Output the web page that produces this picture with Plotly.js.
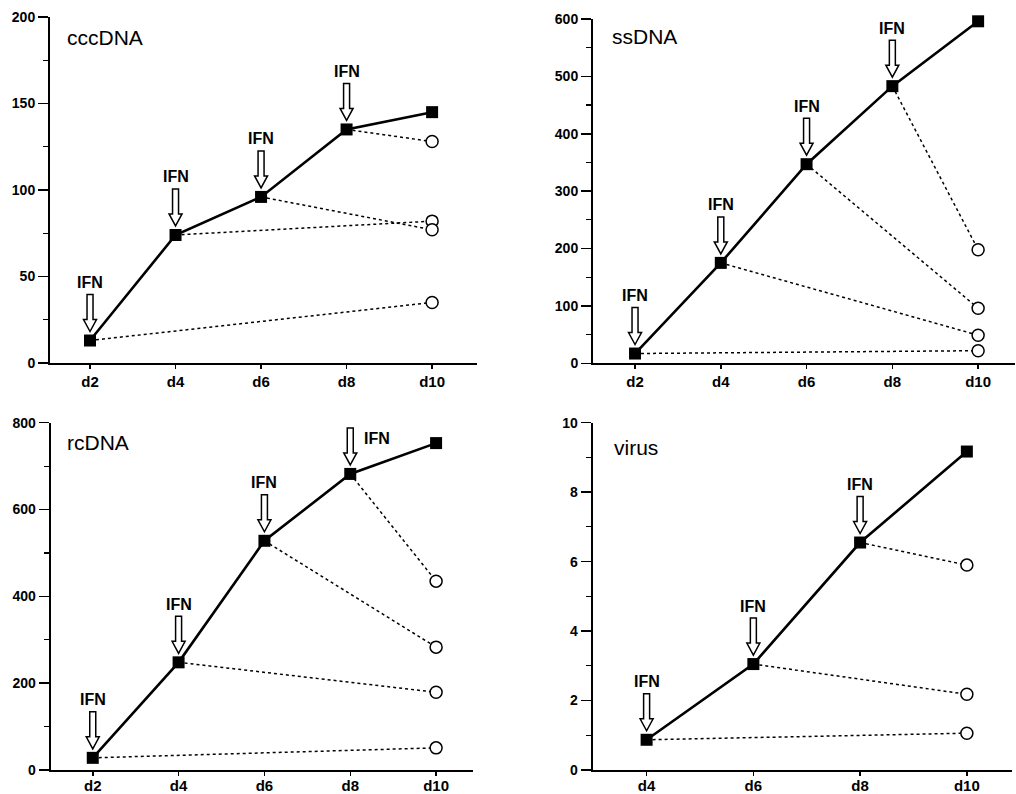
<!DOCTYPE html>
<html>
<head>
<meta charset="utf-8">
<script src="https://cdn.plot.ly/plotly-3.0.1.min.js"></script>
<style>html,body{margin:0;padding:0;background:#fff;}#chart{width:1016px;height:794px;}</style>
</head>
<body>
<div id="chart"></div>
<script>
// ---- data ----
const cccDays = ['d2', 'd4', 'd6', 'd8', 'd10'];
const cccMain = [13, 74, 96, 135, 145];          // untreated (filled squares)
const cccIFN  = [35, 82, 77, 128];               // d10 value after IFN started at d2, d4, d6, d8

const ssDays = ['d2', 'd4', 'd6', 'd8', 'd10'];
const ssMain = [17, 175, 347, 483, 596];
const ssIFN  = [22, 49, 96, 198];

const rcDays = ['d2', 'd4', 'd6', 'd8', 'd10'];
const rcMain = [28, 248, 528, 682, 753];
const rcIFN  = [51, 179, 283, 435];

const virusDays = ['d4', 'd6', 'd8', 'd10'];
const virusMain = [0.87, 3.05, 6.55, 9.17];
const virusIFN  = [1.06, 2.18, 5.9];

const panelTitles = ['cccDNA', 'ssDNA', 'rcDNA', 'virus'];
const ifnLabel = 'IFN';

// ---- layout config ----
const W = 1016, H = 794;
const FONT = 'Liberation Sans, Arial, Helvetica, sans-serif';

const panels = [
  {title: panelTitles[0], days: cccDays, main: cccMain, ifn: cccIFN, ax: '', px: [50, 477], py: [17, 363], yr: [0, 200], dt: 50, mdt: 25, xr: [1.064, 11.05], lab: [0.035, 0.942], sideLabel: -1, so: 0},
  {title: panelTitles[1], days: ssDays, main: ssMain, ifn: ssIFN, ax: '2', px: [593, 1015], py: [19, 363.3], yr: [0, 600], dt: 100, mdt: 50, xr: [1.02, 10.86], lab: [0.04, 0.949], sideLabel: -1, so: 0},
  {title: panelTitles[2], days: rcDays, main: rcMain, ifn: rcIFN, ax: '3', px: [50.7, 473], py: [422.7, 770], yr: [0, 800], dt: 200, mdt: 100, xr: [1.02, 10.86], lab: [0.034, 0.942], sideLabel: 3, so: -3},
  {title: panelTitles[3], days: virusDays, main: virusMain, ifn: virusIFN, ax: '4', px: [592.7, 1011.7], py: [422.7, 770], yr: [0, 10], dt: 2, mdt: 1, xr: [2.99, 10.84], lab: [0.045, 0.93], sideLabel: -1, so: -3}
];

const dayNum = d => parseInt(d.slice(1), 10);

const traces = [];
const shapes = [];
const annotations = [];
const layout = {
  width: W, height: H,
  margin: {l: 0, r: 0, t: 0, b: 0},
  paper_bgcolor: '#fff', plot_bgcolor: '#fff',
  showlegend: false,
  font: {family: FONT, color: '#000'},
  shapes: shapes, annotations: annotations
};

const arrowPath = 'M -3 46 L 3 46 L 3 21 L 6.5 21 L 0 9 L -6.5 21 L -3 21 Z';

panels.forEach((p, pi) => {
  const xa = 'x' + p.ax, ya = 'y' + p.ax;
  const xs = p.days.map(dayNum);
  const last = xs.length - 1;

  // dotted IFN-treated lines
  p.ifn.forEach((v, i) => {
    traces.push({
      type: 'scatter', mode: 'lines', xaxis: xa, yaxis: ya, cliponaxis: false,
      x: [xs[i], xs[last]], y: [p.main[i], v],
      line: {color: '#000', width: 1.5, dash: 'dot'}, hoverinfo: 'skip'
    });
  });
  // open circles
  traces.push({
    type: 'scatter', mode: 'markers', xaxis: xa, yaxis: ya, cliponaxis: false,
    x: p.ifn.map(() => xs[last]), y: p.ifn,
    marker: {symbol: 'circle', size: 12, color: '#fff', line: {color: '#000', width: 1.5}}
  });
  // untreated main line
  traces.push({
    type: 'scatter', mode: 'lines+markers', xaxis: xa, yaxis: ya, cliponaxis: false,
    x: xs, y: p.main,
    line: {color: '#000', width: 2.6},
    marker: {symbol: 'square', size: 12, color: '#000'}
  });

  // arrows + IFN labels
  for (let i = 0; i < last; i++) {
    shapes.push({
      type: 'path', xref: xa, yref: ya,
      xsizemode: 'pixel', ysizemode: 'pixel',
      xanchor: xs[i], yanchor: p.main[i],
      path: arrowPath,
      fillcolor: '#fff', line: {color: '#000', width: 1.5}
    });
    const side = (i === p.sideLabel);
    annotations.push({
      xref: xa, yref: ya, x: xs[i], y: p.main[i],
      text: '<b>' + ifnLabel + '</b>', showarrow: false,
      xanchor: side ? 'left' : 'center', yanchor: 'middle',
      xshift: side ? 12 : 0, yshift: side ? 35 : 58,
      font: {size: 16, family: FONT, color: '#000'}
    });
  }

  // panel label
  annotations.push({
    xref: xa + ' domain', yref: ya + ' domain', x: p.lab[0], y: p.lab[1],
    xanchor: 'left', yanchor: 'middle', showarrow: false,
    text: p.title, font: {size: 21, family: FONT, color: '#000'}
  });

  const xKey = 'xaxis' + p.ax, yKey = 'yaxis' + p.ax;
  layout[xKey] = {
    domain: [p.px[0] / W, p.px[1] / W],
    anchor: ya, range: p.xr,
    tickvals: xs, ticktext: p.days,
    showline: true, linewidth: 2, linecolor: '#000',
    ticks: 'outside', ticklen: 4, tickwidth: 1.5, tickcolor: '#000',
    ticklabelstandoff: p.so,
    showgrid: false, zeroline: false,
    tickfont: {size: 15, family: FONT, weight: 'bold', color: '#000'}
  };
  layout[yKey] = {
    domain: [1 - p.py[1] / H, 1 - p.py[0] / H],
    anchor: xa, range: p.yr, dtick: p.dt, tick0: 0,
    showline: true, linewidth: 2, linecolor: '#000',
    ticks: 'outside', ticklen: 10, tickwidth: 1.5, tickcolor: '#000',
    minor: {dtick: p.mdt, ticks: 'outside', ticklen: 5, tickwidth: 1.2, tickcolor: '#000'},
    showgrid: false, zeroline: false,
    tickfont: {size: 14, family: FONT, weight: 'bold', color: '#000'}
  };
});

Plotly.newPlot('chart', traces, layout, {displayModeBar: false, staticPlot: true});
</script>
</body>
</html>
